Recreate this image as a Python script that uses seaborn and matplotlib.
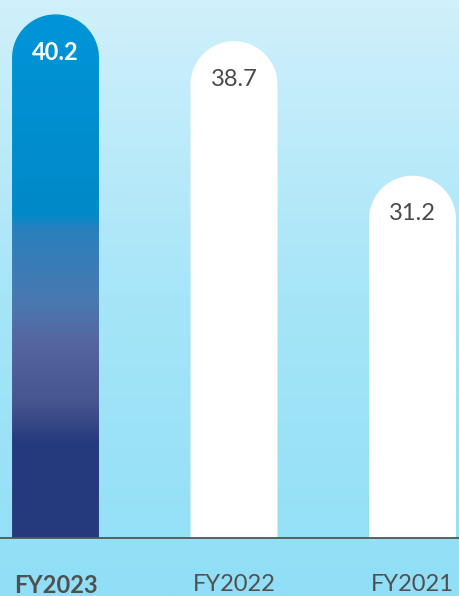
import numpy as np
import pandas as pd
import matplotlib
matplotlib.use("Agg")
import matplotlib.pyplot as plt
import seaborn as sns
from matplotlib.path import Path
from matplotlib.patches import PathPatch
from matplotlib.colors import LinearSegmentedColormap

# ---- data ----
years = ["FY2023", "FY2022", "FY2021"]
values = [40.2, 38.7, 31.2]
value_labels = ["40.2", "38.7", "31.2"]

plt.rcParams["font.family"] = ["Lato", "DejaVu Sans"]

W, H = 460, 596
fig = plt.figure(figsize=(W / 100, H / 100), dpi=100)

# background gradient
bg = fig.add_axes([0, 0, 1, 1], zorder=0)
grad = np.linspace(0, 1, 256).reshape(-1, 1)
bg_cmap = LinearSegmentedColormap.from_list("bg", ["#d0f0fb", "#a6e5f8", "#90dff6"])
bg.imshow(grad, aspect="auto", cmap=bg_cmap, extent=[0, 1, 0, 1], origin="upper")
bg.set_axis_off()

ax_bottom_px = 58
ax_h_px = H - ax_bottom_px
ax = fig.add_axes([0, ax_bottom_px / H, 1, ax_h_px / H], zorder=1)
ax.patch.set_alpha(0)

df = pd.DataFrame({"year": years, "value": values})
bar_w = 0.487
sns.barplot(data=df, x="year", y="value", order=years, ax=ax, color="white",
            width=bar_w, saturation=1, errorbar=None)

xlim = (-0.311, 2.266)
ylim = (11, 41)
ax.set_xlim(*xlim)
ax.set_ylim(*ylim)

px_per_x = W / (xlim[1] - xlim[0])
y_per_px = (ylim[1] - ylim[0]) / ax_h_px

bar_cmap = LinearSegmentedColormap.from_list("bar", [
    (0.0, "#0095d8"), (0.382, "#0089c9"), (0.41, "#2a80bc"), (0.552, "#4b78b0"),
    (0.628, "#55659f"), (0.741, "#47558f"), (0.817, "#263b7e"), (1.0, "#243a7c")])

patches = list(ax.patches)
for i, p in enumerate(patches):
    x0 = p.get_x()
    w = p.get_width()
    top = p.get_y() + p.get_height()
    p.remove()
    rx = w / 2
    ry = rx * px_per_x * y_per_px
    xc = x0 + rx
    th = np.linspace(np.pi, 0, 60)
    verts = [(x0, 0), (x0, top - ry)]
    verts += [(xc + rx * np.cos(t), top - ry + ry * np.sin(t)) for t in th]
    verts += [(x0 + w, 0), (x0, 0)]
    codes = [Path.MOVETO] + [Path.LINETO] * (len(verts) - 2) + [Path.CLOSEPOLY]
    path = Path(verts, codes)
    if i == 0:
        patch = PathPatch(path, facecolor="none", edgecolor="none", zorder=2)
        ax.add_patch(patch)
        im = ax.imshow(grad, aspect="auto", cmap=bar_cmap, origin="upper",
                       extent=[x0, x0 + w, ylim[0], top], zorder=2)
        im.set_clip_path(patch)
        ax.annotate(value_labels[i], xy=(xc, top), xytext=(0, -38 * 0.72),
                    textcoords="offset points", ha="center", va="center",
                    fontsize=17, fontweight="bold", color="white", zorder=3)
    else:
        patch = PathPatch(path, facecolor="white", edgecolor="none", zorder=2)
        ax.add_patch(patch)
        ax.annotate(value_labels[i], xy=(xc, top), xytext=(0, -38 * 0.72),
                    textcoords="offset points", ha="center", va="center",
                    fontsize=17, color="#4a4a4a", zorder=3)

ax.set_xlim(*xlim)
ax.set_ylim(*ylim)
ax.set_xlabel("")
ax.set_ylabel("")
ax.set_yticks([])
ax.set_xticks(range(len(years)))
ax.set_xticklabels(years)
ax.tick_params(axis="x", length=0, pad=26, labelsize=17, labelcolor="#505050")
ax.get_xticklabels()[0].set_fontweight("bold")
for s in ["top", "left", "right"]:
    ax.spines[s].set_visible(False)
ax.spines["bottom"].set_color("#555555")
ax.spines["bottom"].set_linewidth(1.3)

fig.savefig("out.png", dpi=100)
